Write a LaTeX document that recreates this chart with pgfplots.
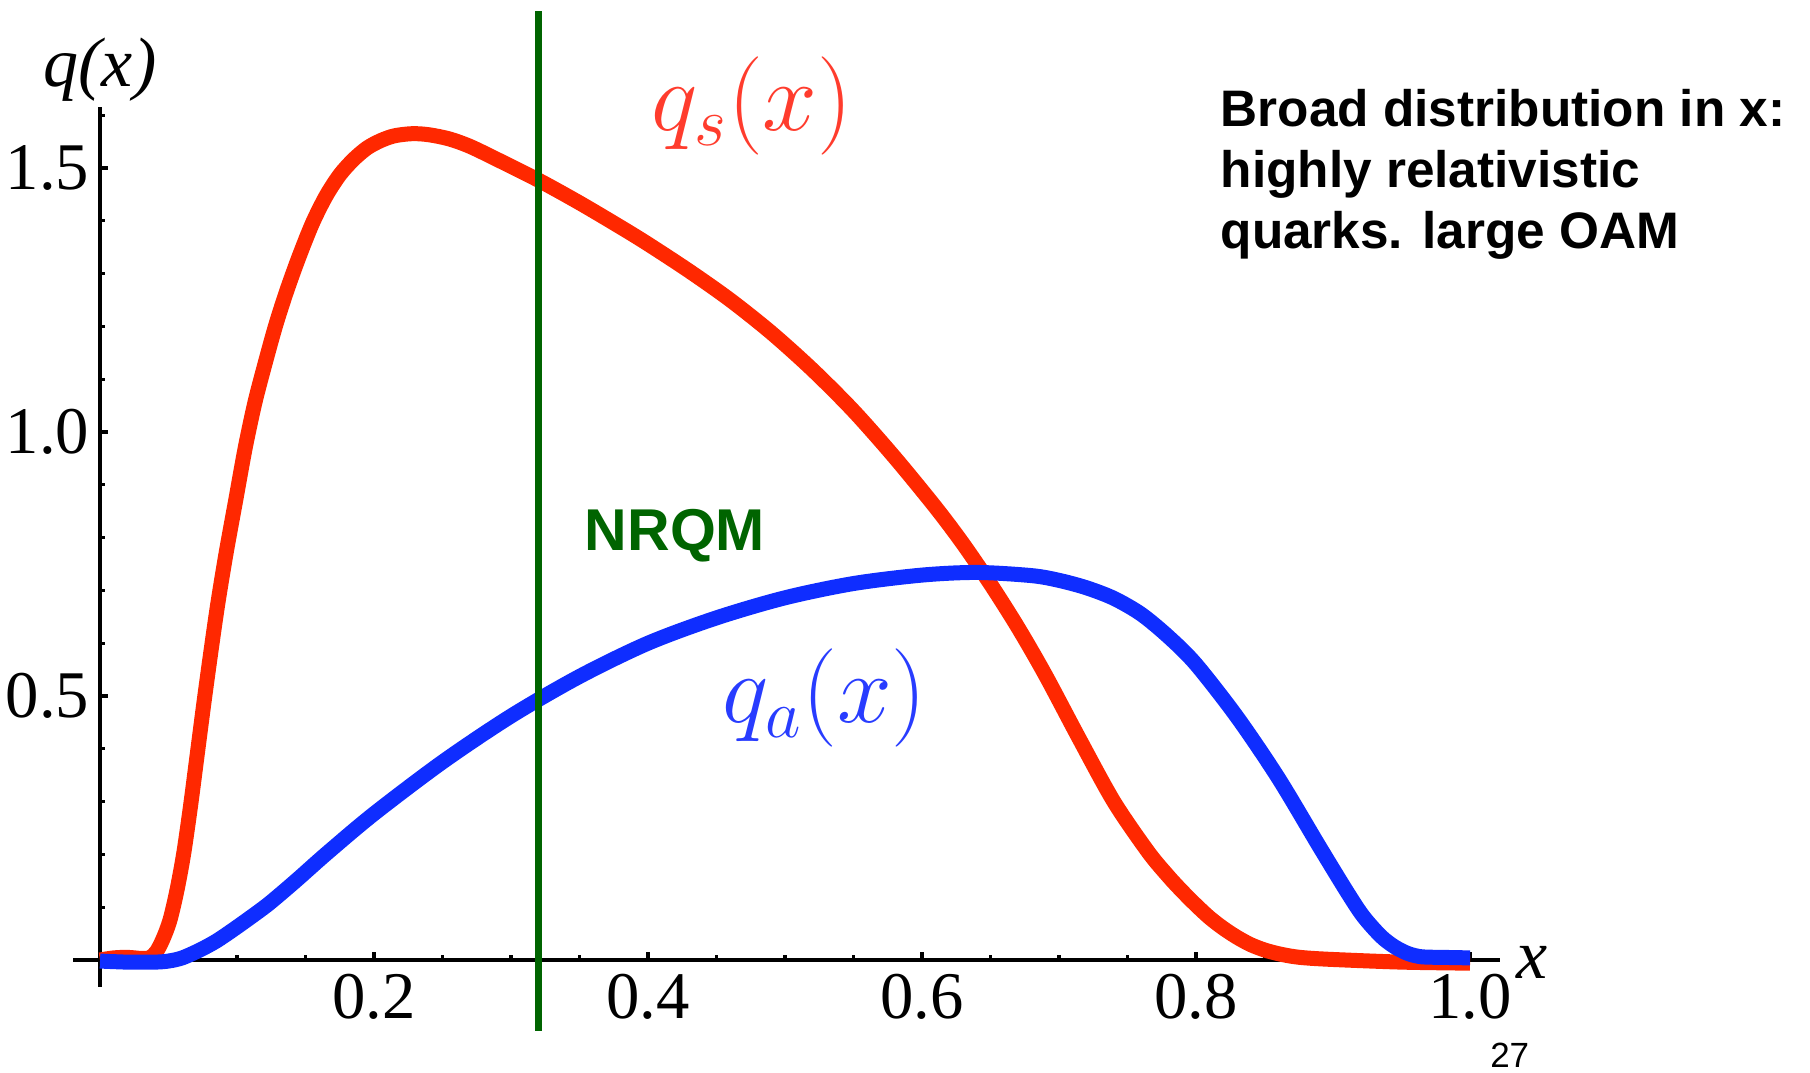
\RequirePackage{fix-cm}
\documentclass[border=0pt]{standalone}
\usepackage{pgfplots}
\pgfplotsset{compat=1.18}
\usepackage{fontspec}
\setmainfont{Liberation Serif}
\newfontfamily\arial{Liberation Sans}

\definecolor{qsred}{RGB}{255,40,0}
\definecolor{qslab}{RGB}{255,60,45}
\definecolor{qablue}{RGB}{15,45,255}
\definecolor{qalab}{RGB}{40,60,255}
\definecolor{nrgreen}{RGB}{0,100,0}

\begin{document}
\begin{tikzpicture}
\begin{axis}[
  anchor=origin, at={(0pt,0pt)},
  x=411pt, y=158.4pt,
  xmin=-0.0197, xmax=1.022, ymin=-0.051, ymax=1.616,
  axis lines=middle,
  axis line style={-, line width=1.1pt},
  clip=false,
  tick align=inside,
  tick style={black, line width=1.0pt},
  major tick length=2.3pt, minor tick length=1.4pt,
  xtick={0.2,0.4,0.6,0.8,1.0},
  minor xtick={0.05,0.1,...,0.951},
  ytick={0.5,1.0,1.5},
  minor ytick={0.1,0.2,...,1.61},
  /pgf/number format/.cd, fixed, fixed zerofill, precision=1, assume math mode=true,
  /pgfplots/.cd,
  ticklabel style={font=\fontsize{20}{21}\selectfont, inner sep=0pt},
  xticklabel style={anchor=north, yshift=-3.9pt},
  yticklabel style={anchor=east, xshift=-3pt},
]
% q_s(x)
\addplot[qsred, line width=4.5pt, smooth, line cap=butt] coordinates {
 (0,0.000) (0.01,0.004) (0.02,0.005) (0.03,0.003) (0.036,0.004)
 (0.041,0.015) (0.046,0.04) (0.051,0.075) (0.056,0.13) (0.061,0.2)
 (0.066,0.29) (0.071,0.39) (0.076,0.49) (0.081,0.585) (0.086,0.675)
 (0.092,0.77) (0.099,0.87) (0.106,0.97) (0.113,1.055) (0.12,1.125)
 (0.128,1.2) (0.136,1.265) (0.145,1.33) (0.155,1.395) (0.165,1.447)
 (0.175,1.487) (0.185,1.516) (0.195,1.538) (0.205,1.552) (0.215,1.561)
 (0.228,1.565) (0.24,1.563) (0.255,1.555) (0.27,1.541) (0.29,1.516)
 (0.32,1.477) (0.35,1.434) (0.38,1.388) (0.40,1.356) (0.43,1.305)
 (0.46,1.25) (0.49,1.188) (0.52,1.118) (0.55,1.04) (0.58,0.952)
 (0.61,0.857) (0.63,0.788) (0.65,0.712) (0.67,0.63) (0.69,0.54)
 (0.715,0.418) (0.74,0.30) (0.765,0.205) (0.78,0.158) (0.79,0.13)
 (0.80,0.104) (0.81,0.08) (0.82,0.06) (0.83,0.043) (0.84,0.029)
 (0.85,0.019) (0.86,0.012) (0.87,0.007) (0.88,0.004) (0.90,0.001)
 (0.95,-0.004) (1.0,-0.006)
};
% q_a(x)
\addplot[qablue, line width=4.5pt, smooth, line cap=butt] coordinates {
 (0,-0.002) (0.02,-0.004) (0.04,-0.004) (0.05,-0.002) (0.06,0.004)
 (0.073,0.019) (0.085,0.036) (0.097,0.057) (0.11,0.081) (0.122,0.104)
 (0.134,0.13) (0.146,0.157) (0.166,0.203) (0.2,0.277) (0.25,0.375)
 (0.3,0.462) (0.35,0.537) (0.4,0.6) (0.45,0.648) (0.5,0.686)
 (0.55,0.713) (0.6,0.729) (0.64,0.734) (0.68,0.728) (0.70,0.719)
 (0.72,0.705) (0.74,0.685) (0.76,0.655) (0.78,0.612) (0.8,0.56)
 (0.83,0.46) (0.86,0.345) (0.89,0.215) (0.91,0.13) (0.922,0.083)
 (0.935,0.045) (0.945,0.025) (0.955,0.012) (0.965,0.006) (0.98,0.005)
 (1.0,0.004)
};
% NRQM line
\addplot[nrgreen, line width=2.2pt] coordinates {(0.32,-0.134) (0.32,1.798)};

\node[font=\fontsize{21}{22}\selectfont\itshape] at (axis cs:0,1.686) {q(x)};
\node[font=\fontsize{21}{22}\selectfont\itshape] at (axis cs:1.045,-0.004) {x};
\node[qslab, font=\fontsize{29.5}{31}\selectfont] at (axis cs:0.476,1.617) {$q_s(x)$};
\node[qalab, font=\fontsize{29.5}{31}\selectfont] at (axis cs:0.529,0.496) {$q_a(x)$};
\node[nrgreen, anchor=base, inner sep=0pt, font=\arial\bfseries\fontsize{17.7}{18}\selectfont] at (axis cs:0.4197,0.7765) {NRQM};
\node[anchor=base west, inner sep=0pt, font=\arial\bfseries\fontsize{15.4}{16}\selectfont] at (axis cs:0.8175,1.5795) {Broad distribution in x:};
\node[anchor=base west, inner sep=0pt, font=\arial\bfseries\fontsize{15.4}{16}\selectfont] at (axis cs:0.8175,1.464) {highly relativistic};
\node[anchor=base west, inner sep=0pt, font=\arial\bfseries\fontsize{15.4}{16}\selectfont] at (axis cs:0.8175,1.348) {quarks. large OAM};
\node[font=\arial\fontsize{10.5}{11}\selectfont] at (axis cs:1.029,-0.18) {27};
\end{axis}
\pgfresetboundingbox
\path[use as bounding box] (-30pt,-33.6pt) rectangle (513pt,288pt);
\end{tikzpicture}
\end{document}
